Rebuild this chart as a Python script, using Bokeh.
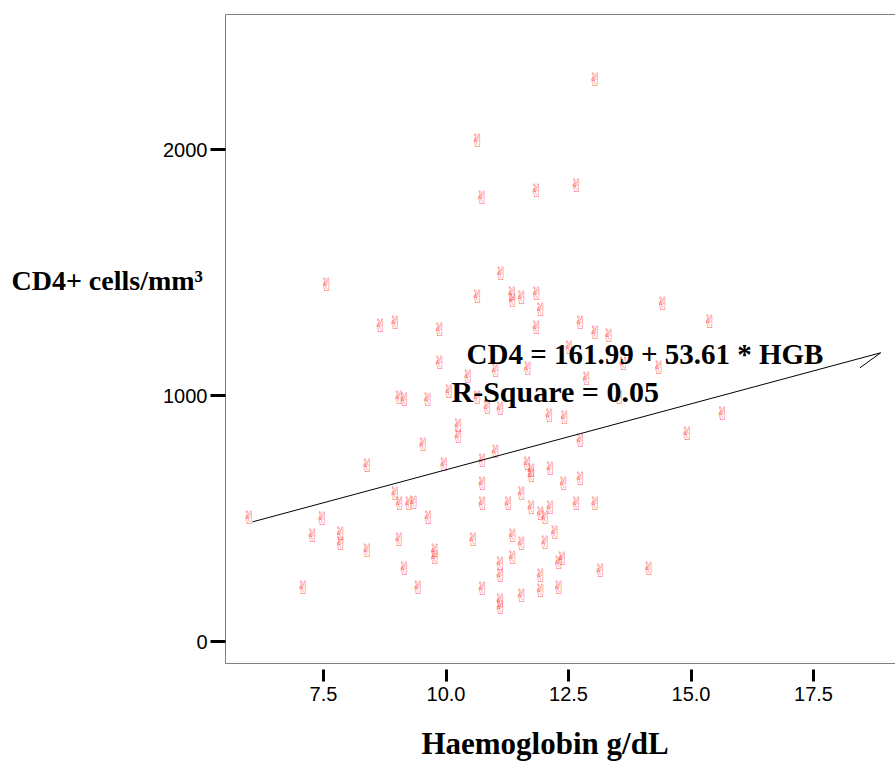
from bokeh.plotting import figure
from bokeh.models import Range1d, FixedTicker, Label, ColumnDataSource, NumeralTickFormatter, LinearAxis
from bokeh.core.properties import value
from bokeh.embed import file_html
from bokeh.resources import INLINE

# ---- data ----
hgb = [5.98, 7.08, 7.27, 7.47, 7.56, 7.85, 7.85, 8.39, 8.39, 8.66,
       8.96, 8.96, 9.04, 9.15, 9.05, 9.24, 9.34, 9.04, 9.15, 9.43,
       9.53, 9.63, 9.64, 9.77, 9.77, 9.87, 9.87, 9.96, 10.06, 10.25,
       10.25, 10.45, 10.55, 10.64, 10.64, 10.64, 10.73, 10.74, 10.74, 10.74,
       10.74, 10.84, 11.01, 11.01, 11.11, 11.12, 11.11, 11.11, 11.11, 11.11,
       11.27, 11.35, 11.36, 11.36, 11.36, 11.54, 11.54, 11.54, 11.54, 11.66,
       11.74, 11.74, 11.74, 11.67, 11.84, 11.85, 11.93, 11.84, 11.93, 12.02,
       12.13, 12.13, 12.22, 12.02, 11.93, 11.93, 12.30, 12.30, 12.37, 12.11,
       12.42, 12.40, 12.51, 12.66, 12.66, 12.74, 12.74, 12.74, 12.87, 13.04,
       13.04, 13.04, 13.15, 13.32, 13.53, 13.62, 14.14, 14.34, 14.42, 14.92,
       15.38, 15.64]
cd4 = [505, 221, 431, 499, 1451, 438, 397, 715, 370, 1285,
       1296, 603, 993, 982, 560, 560, 566, 413, 295, 221,
       800, 982, 505, 370, 343, 1267, 1135, 720, 1017, 878,
       835, 1077, 413, 2037, 1402, 993, 1805, 736, 641, 560,
       214, 953, 1102, 772, 946, 1495, 316, 268, 167, 139,
       560, 1413, 1386, 431, 343, 1397, 600, 397, 187, 722,
       695, 675, 546, 1108, 1833, 1413, 1348, 1278, 519, 505,
       546, 702, 444, 404, 268, 207, 221, 322, 336, 919,
       912, 641, 1196, 1854, 560, 1298, 817, 661, 1068, 2283,
       1255, 560, 289, 1244, 993, 1129, 295, 1115, 1375, 844,
       1301, 925]

intercept = 161.99
slope = 53.61
r_square = 0.05
fit_x = [6.05, 18.87]
hook_x = [18.87, 18.45]
hook_y = [1173.6, 1113]

x_ticks = [7.5, 10.0, 12.5, 15.0, 17.5]
y_ticks = [0, 1000, 2000]

# ---- figure ----
p = figure(width=895, height=763, output_backend="svg", toolbar_location=None,
           x_range=Range1d(5.5, 19.173), y_range=Range1d(-89.4, 2548.8),
           min_border_left=225, min_border_right=0, min_border_top=14, min_border_bottom=100)
p.background_fill_color = "white"
p.border_fill_color = "white"
p.outline_line_color = None
p.grid.visible = False

serif = "Liberation Serif"
sans = "Liberation Sans"
frame_grey = "#808080"

# axes
xa = p.xaxis[0]
xa.ticker = FixedTicker(ticks=x_ticks)
xa.formatter = NumeralTickFormatter(format="0.0")
xa.axis_line_color = frame_grey
xa.major_tick_in = -6
xa.major_tick_out = 18
xa.major_tick_line_width = 3
xa.major_tick_line_color = "black"
xa.minor_tick_line_color = None
xa.major_label_text_font = sans
xa.major_label_text_font_size = "20px"
xa.major_label_text_color = "black"
xa.major_label_standoff = 5
xa.axis_label = "Haemoglobin g/dL" + "\u00a0" * 4
xa.axis_label_text_font = serif
xa.axis_label_text_font_style = "bold"
xa.axis_label_text_font_size = "31px"
xa.axis_label_text_color = "black"
xa.axis_label_standoff = 22

ya = p.yaxis[0]
ya.ticker = FixedTicker(ticks=y_ticks)
ya.axis_line_color = frame_grey
ya.major_tick_in = 0
ya.major_tick_out = 15
ya.major_tick_line_width = 3
ya.major_tick_line_color = "black"
ya.minor_tick_line_color = None
ya.major_label_text_font = sans
ya.major_label_text_font_size = "20px"
ya.major_label_text_color = "black"
ya.major_label_standoff = 3
ya.major_label_orientation = "horizontal"
ya.axis_label = "CD4+ cells/mm\u00b3\n\n\n"
ya.axis_label_orientation = "horizontal"
ya.axis_label_text_font = serif
ya.axis_label_text_font_style = "bold"
ya.axis_label_text_font_size = "28px"
ya.axis_label_text_line_height = 1.26
ya.axis_label_text_color = "black"
ya.axis_label_standoff = -43

top = LinearAxis(ticker=FixedTicker(ticks=[]), axis_line_color=frame_grey,
                 major_tick_in=0, major_tick_out=0, minor_tick_line_color=None,
                 major_label_text_font_size="0px", major_label_standoff=0)
p.add_layout(top, "above")

# points (outlined victory-hand glyph from DejaVu Sans)
src = ColumnDataSource(dict(x=hgb, y=cd4, t=["\u270c"] * len(hgb)))
p.text(x="x", y="y", text="t", source=src, text_font=value("DejaVu Sans"),
       text_font_size="18px", text_color="#ff3030", text_alpha=0.75,
       text_align="center", text_baseline="middle")

# regression line
fit_y = [intercept + slope * v for v in fit_x]
p.line(fit_x, fit_y, line_color="black", line_width=1)
p.line(hook_x, hook_y, line_color="black", line_width=1)

# equation texts (inside the frame)
p.add_layout(Label(x=241, y=310, x_units="screen", y_units="screen",
                   text=f"CD4 = {intercept:.2f} + {slope:.2f} * HGB", text_font=serif,
                   text_font_style="bold", text_font_size="29px", text_color="black",
                   text_baseline="alphabetic"))
p.add_layout(Label(x=226, y=272, x_units="screen", y_units="screen",
                   text=f"R-Square = {r_square:.2f}", text_font=serif,
                   text_font_style="bold", text_font_size="30px", text_color="black",
                   text_baseline="alphabetic"))

open("out.html", "w").write(file_html(p, INLINE))
